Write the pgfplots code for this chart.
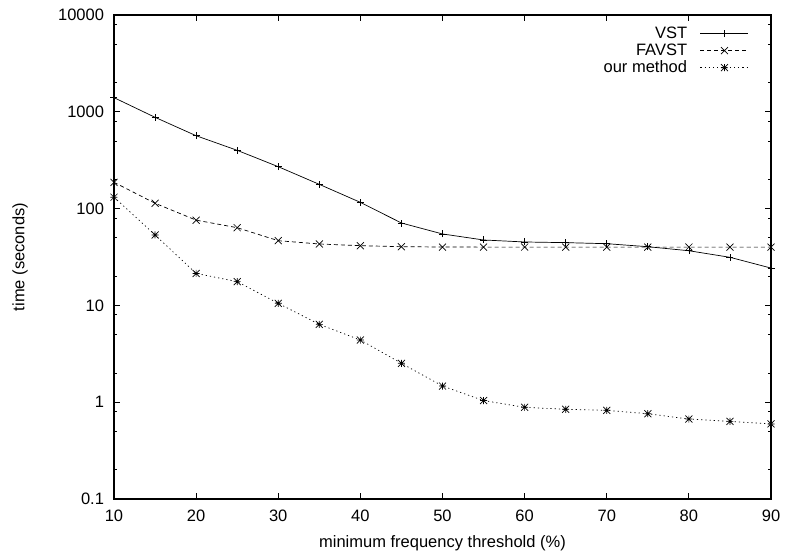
\documentclass[border=0pt]{standalone}
\usepackage{pgfplots}
\pgfplotsset{compat=1.18}
\usepackage{fontspec}
\setmainfont{Liberation Sans}
\pgfdeclareplotmark{gplus}{%
  \pgfpathmoveto{\pgfqpoint{-\pgfplotmarksize}{0pt}}\pgfpathlineto{\pgfqpoint{\pgfplotmarksize}{0pt}}%
  \pgfpathmoveto{\pgfqpoint{0pt}{-\pgfplotmarksize}}\pgfpathlineto{\pgfqpoint{0pt}{\pgfplotmarksize}}%
  \pgfusepathqstroke}
\pgfdeclareplotmark{gx}{%
  \pgfpathmoveto{\pgfqpoint{-\pgfplotmarksize}{-\pgfplotmarksize}}\pgfpathlineto{\pgfqpoint{\pgfplotmarksize}{\pgfplotmarksize}}%
  \pgfpathmoveto{\pgfqpoint{-\pgfplotmarksize}{\pgfplotmarksize}}\pgfpathlineto{\pgfqpoint{\pgfplotmarksize}{-\pgfplotmarksize}}%
  \pgfusepathqstroke}
\pgfdeclareplotmark{gstar}{%
  \pgfpathmoveto{\pgfqpoint{-\pgfplotmarksize}{0pt}}\pgfpathlineto{\pgfqpoint{\pgfplotmarksize}{0pt}}%
  \pgfpathmoveto{\pgfqpoint{0pt}{-\pgfplotmarksize}}\pgfpathlineto{\pgfqpoint{0pt}{\pgfplotmarksize}}%
  \pgfpathmoveto{\pgfqpoint{-\pgfplotmarksize}{-\pgfplotmarksize}}\pgfpathlineto{\pgfqpoint{\pgfplotmarksize}{\pgfplotmarksize}}%
  \pgfpathmoveto{\pgfqpoint{-\pgfplotmarksize}{\pgfplotmarksize}}\pgfpathlineto{\pgfqpoint{\pgfplotmarksize}{-\pgfplotmarksize}}%
  \pgfusepathqstroke}
\newcommand{\gfont}{\fontsize{16.5}{18}\selectfont}
\begin{document}
\begin{tikzpicture}
\useasboundingbox (-114pt,-60pt) rectangle (672pt,499pt);
\begin{axis}[
  at={(0pt,0pt)}, anchor=south west,
  scale only axis, width=657pt, height=484pt,
  xmin=10, xmax=90, ymode=log, ymin=0.1, ymax=10000,
  xtick={10,20,30,40,50,60,70,80,90},
  ytick={0.1,1,10,100,1000,10000},
  yticklabels={0.1,1,10,100,1000,10000},
  minor ytick={0.2,0.5,0.8,2,5,8,20,50,80,200,500,800,2000,5000,8000},
  tick align=inside, major tick length=6pt, minor tick length=3.5pt,
  tick style={black, line width=0.8pt},
  axis line style={line width=1.2pt},
  tick label style={font=\gfont},
  label style={font=\gfont},
  /pgf/number format/assume math mode=true,
  xticklabel style={yshift=-7.5pt},
  yticklabel style={xshift=-6.5pt},
  xlabel={minimum frequency threshold (\%)},
  ylabel={time (seconds)},
  xlabel style={at={(axis description cs:0.5,0)}, anchor=center, yshift=-44pt},
  ylabel style={at={(axis description cs:0,0.5)}, anchor=center, yshift=94pt},
  legend plot pos=right,
  legend cell align=right,
  legend style={at={(rel axis cs:1,1)}, anchor=north east, xshift=-22pt, yshift=-11pt,
    draw=none, fill=none, inner sep=0pt, row sep=2pt, column sep=13pt, font=\gfont,
    nodes={inner sep=0pt, text height=12pt, text depth=3pt}},
  legend image code/.code={\draw[mark repeat=2,mark phase=2] plot coordinates {(0pt,0pt)(24pt,0pt)(48pt,0pt)};},
  every axis plot/.append style={black, line width=0.7pt, mark size=3.5pt, mark options={solid, line width=0.7pt}},
]
\addplot[mark=gplus] coordinates {
(10,1400)(15,877)(20,566)(25,400)(30,271)(35,178)(40,116)(45,71)(50,54.7)(55,47.4)(60,45.2)(65,44.5)(70,43.4)(75,40.4)(80,36.7)(85,31.4)(90,24.3)};
\addlegendentry{VST}
\addplot[mark=gx, dash pattern=on 4pt off 3pt] coordinates {
(10,187)(15,113.5)(20,76)(25,63.5)(30,46.6)(35,43.1)(40,41.4)(45,40.4)(50,40.1)(55,40)(60,40)(65,40)(70,40)(75,40)(80,40)(85,40)(90,40)};
\addlegendentry{FAVST}
\addplot[mark=gstar, dash pattern=on 1.2pt off 3pt] coordinates {
(10,131)(15,53.4)(20,21.4)(25,17.6)(30,10.5)(35,6.37)(40,4.39)(45,2.52)(50,1.47)(55,1.04)(60,0.885)(65,0.845)(70,0.824)(75,0.76)(80,0.67)(85,0.634)(90,0.596)};
\addlegendentry{our method}
\end{axis}
\end{tikzpicture}
\end{document}
